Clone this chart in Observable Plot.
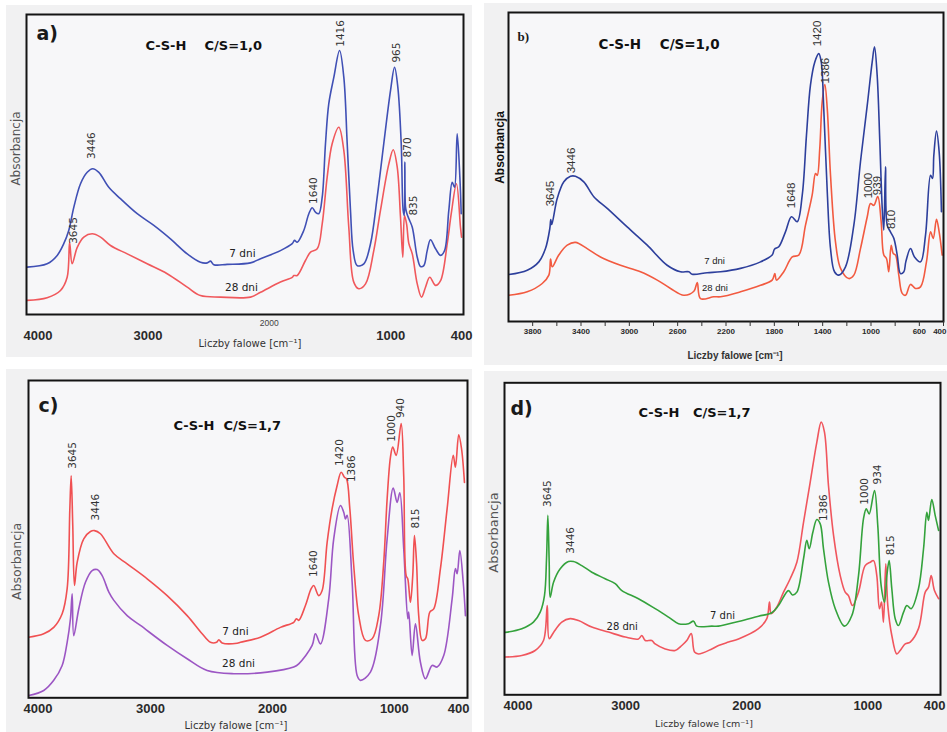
<!DOCTYPE html>
<html><head><meta charset="utf-8">
<script src="https://cdn.jsdelivr.net/npm/d3@7"></script>
<script src="https://cdn.jsdelivr.net/npm/@observablehq/plot@0.6"></script>
<style>
body{margin:0;background:#fff;}
#wrap{position:relative;width:947px;height:732px;overflow:hidden;background:#fff;}
.bg{position:absolute;background:#f1f1f2;}
.panel{position:absolute;}
</style></head><body><div id="wrap"></div>
<script>
// ---------- DATA: [wavenumber cm-1, absorbance (relative)] ----------
const a_7dni = [[3995,0.158],[3830,0.169],[3747,0.197],[3693,0.236],[3652,0.28],[3610,0.358],[3555,0.436],[3500,0.474],[3455,0.486],[3404,0.474],[3322,0.424],[3226,0.386],[3088,0.336],[2951,0.297],[2814,0.252],[2676,0.202],[2567,0.174],[2511,0.172],[2484,0.178],[2457,0.166],[2347,0.167],[2155,0.172],[2072,0.186],[1908,0.213],[1811,0.236],[1792,0.247],[1770,0.241],[1716,0.28],[1674,0.336],[1646,0.356],[1619,0.341],[1592,0.336],[1564,0.391],[1537,0.569],[1510,0.702],[1468,0.791],[1421,0.88],[1386,0.791],[1358,0.569],[1331,0.347],[1309,0.213],[1276,0.163],[1221,0.169],[1166,0.236],[1111,0.391],[1057,0.569],[1001,0.747],[968,0.824],[941,0.758],[913,0.569],[897,0.347],[888,0.33],[883,0.508],[878,0.36],[869,0.34],[850,0.319],[822,0.291],[781,0.191],[754,0.16],[727,0.163],[699,0.213],[672,0.249],[630,0.219],[589,0.197],[556,0.213],[521,0.347],[493,0.441],[474,0.424],[452,0.602],[430,0.458],[419,0.336]];
const a_28dni = [[3995,0.047],[3830,0.056],[3720,0.08],[3665,0.124],[3645,0.241],[3624,0.169],[3582,0.224],[3528,0.258],[3459,0.269],[3390,0.258],[3308,0.23],[3170,0.202],[3006,0.169],[2841,0.136],[2676,0.091],[2567,0.063],[2402,0.058],[2155,0.058],[2072,0.074],[1908,0.108],[1811,0.124],[1798,0.13],[1770,0.13],[1702,0.18],[1660,0.208],[1605,0.219],[1564,0.302],[1523,0.458],[1482,0.569],[1427,0.624],[1386,0.547],[1345,0.291],[1304,0.108],[1263,0.086],[1207,0.102],[1139,0.213],[1084,0.347],[1015,0.502],[979,0.549],[946,0.491],[919,0.324],[900,0.191],[886,0.33],[869,0.302],[850,0.236],[822,0.202],[781,0.102],[746,0.058],[713,0.091],[678,0.124],[630,0.097],[589,0.113],[534,0.236],[501,0.336],[458,0.436],[425,0.291],[416,0.258]];

const b_7dni = [[3997,0.152],[3845,0.166],[3749,0.193],[3694,0.236],[3658,0.301],[3650,0.33],[3642,0.314],[3597,0.398],[3542,0.452],[3487,0.47],[3446,0.47],[3377,0.452],[3294,0.404],[3183,0.366],[3018,0.306],[2852,0.247],[2687,0.182],[2577,0.161],[2508,0.161],[2480,0.153],[2356,0.158],[2245,0.161],[2080,0.172],[1914,0.193],[1818,0.215],[1799,0.234],[1763,0.242],[1708,0.29],[1658,0.339],[1611,0.323],[1569,0.409],[1534,0.603],[1501,0.765],[1465,0.84],[1432,0.867],[1412,0.84],[1391,0.689],[1362,0.42],[1335,0.236],[1302,0.161],[1266,0.15],[1211,0.177],[1142,0.312],[1087,0.517],[1031,0.7],[990,0.84],[971,0.889],[949,0.797],[927,0.582],[907,0.366],[894,0.296],[880,0.501],[866,0.312],[839,0.29],[811,0.269],[783,0.215],[756,0.155],[728,0.161],[712,0.193],[673,0.236],[640,0.209],[590,0.193],[549,0.279],[507,0.473],[491,0.463],[480,0.538],[458,0.616],[436,0.549],[417,0.355]];
const b_28dni = [[3997,0.085],[3845,0.096],[3721,0.123],[3666,0.15],[3652,0.202],[3638,0.177],[3584,0.215],[3514,0.247],[3446,0.256],[3349,0.236],[3239,0.209],[3073,0.182],[2908,0.161],[2769,0.134],[2659,0.107],[2549,0.085],[2466,0.098],[2438,0.126],[2411,0.074],[2301,0.08],[2245,0.08],[2080,0.096],[1914,0.117],[1818,0.134],[1796,0.155],[1782,0.134],[1722,0.161],[1652,0.209],[1597,0.215],[1542,0.312],[1487,0.409],[1459,0.479],[1445,0.473],[1424,0.56],[1404,0.711],[1382,0.767],[1362,0.689],[1335,0.473],[1294,0.258],[1252,0.172],[1184,0.139],[1142,0.15],[1087,0.236],[1031,0.339],[1004,0.382],[977,0.376],[944,0.404],[916,0.323],[894,0.215],[872,0.204],[853,0.161],[833,0.247],[816,0.22],[797,0.215],[770,0.15],[742,0.091],[714,0.085],[673,0.12],[632,0.107],[590,0.112],[541,0.193],[507,0.29],[485,0.269],[458,0.331],[436,0.29],[411,0.215]];

const c_7dni = [[3998,0.191],[3875,0.202],[3793,0.222],[3724,0.265],[3683,0.344],[3661,0.596],[3650,0.7],[3637,0.543],[3623,0.354],[3601,0.427],[3547,0.501],[3492,0.524],[3459,0.527],[3410,0.517],[3300,0.454],[3191,0.422],[3027,0.375],[2863,0.322],[2699,0.259],[2576,0.202],[2508,0.175],[2458,0.175],[2439,0.183],[2412,0.173],[2289,0.172],[2262,0.175],[2098,0.191],[1934,0.222],[1825,0.238],[1803,0.249],[1784,0.244],[1729,0.291],[1682,0.344],[1661,0.354],[1620,0.322],[1592,0.338],[1551,0.49],[1510,0.596],[1469,0.669],[1436,0.711],[1409,0.695],[1392,0.69],[1365,0.596],[1333,0.417],[1292,0.259],[1237,0.181],[1182,0.186],[1128,0.259],[1087,0.427],[1059,0.627],[1032,0.758],[1013,0.79],[985,0.764],[944,0.864],[923,0.7],[903,0.385],[890,0.375],[868,0.301],[849,0.385],[835,0.511],[818,0.427],[800,0.259],[772,0.181],[745,0.186],[709,0.27],[677,0.28],[622,0.407],[567,0.596],[517,0.764],[499,0.727],[472,0.829],[449,0.785],[425,0.679]];
const c_28dni = [[3998,0.007],[3875,0.023],[3793,0.055],[3724,0.102],[3683,0.175],[3656,0.249],[3642,0.328],[3629,0.196],[3588,0.28],[3533,0.364],[3478,0.401],[3437,0.404],[3396,0.385],[3341,0.333],[3300,0.307],[3191,0.259],[3082,0.228],[2863,0.165],[2699,0.123],[2535,0.086],[2317,0.076],[2043,0.081],[1825,0.097],[1784,0.107],[1674,0.165],[1647,0.202],[1606,0.17],[1538,0.312],[1497,0.501],[1442,0.606],[1415,0.585],[1401,0.564],[1387,0.575],[1346,0.364],[1305,0.07],[1278,0.055],[1196,0.081],[1114,0.228],[1059,0.501],[1009,0.661],[977,0.616],[955,0.646],[923,0.47],[890,0.249],[882,0.27],[854,0.133],[827,0.233],[786,0.112],[745,0.06],[690,0.102],[649,0.097],[595,0.133],[526,0.312],[499,0.407],[485,0.391],[463,0.464],[435,0.364],[417,0.259]];

const d_7dni = [[3994,0.2],[3857,0.212],[3761,0.233],[3705,0.265],[3670,0.318],[3653,0.436],[3642,0.575],[3631,0.425],[3623,0.313],[3595,0.361],[3540,0.404],[3472,0.427],[3430,0.427],[3362,0.414],[3279,0.393],[3169,0.372],[3086,0.356],[3031,0.334],[2894,0.308],[2756,0.276],[2646,0.249],[2563,0.228],[2481,0.228],[2439,0.236],[2412,0.22],[2288,0.22],[2233,0.22],[2068,0.235],[1903,0.252],[1793,0.263],[1738,0.286],[1655,0.334],[1622,0.32],[1586,0.329],[1531,0.436],[1504,0.495],[1484,0.468],[1454,0.521],[1421,0.562],[1393,0.548],[1366,0.468],[1325,0.361],[1269,0.276],[1193,0.22],[1132,0.254],[1077,0.382],[1036,0.564],[1013,0.596],[989,0.58],[945,0.655],[918,0.543],[890,0.35],[862,0.297],[843,0.382],[824,0.43],[802,0.34],[774,0.244],[747,0.222],[705,0.265],[678,0.286],[642,0.276],[582,0.34],[540,0.468],[513,0.585],[499,0.559],[472,0.626],[444,0.575],[416,0.527]];
const d_28dni = [[3994,0.121],[3857,0.126],[3747,0.142],[3678,0.174],[3647,0.286],[3631,0.18],[3595,0.2],[3527,0.233],[3458,0.244],[3389,0.238],[3279,0.217],[3141,0.201],[3003,0.185],[2894,0.179],[2866,0.19],[2838,0.174],[2784,0.174],[2756,0.163],[2673,0.147],[2591,0.142],[2536,0.158],[2495,0.174],[2458,0.196],[2431,0.137],[2398,0.131],[2288,0.147],[2233,0.158],[2150,0.169],[2068,0.179],[1903,0.212],[1834,0.244],[1812,0.297],[1798,0.26],[1752,0.281],[1696,0.329],[1641,0.372],[1586,0.425],[1531,0.553],[1476,0.681],[1421,0.81],[1385,0.874],[1358,0.842],[1325,0.671],[1283,0.511],[1228,0.382],[1187,0.329],[1160,0.318],[1127,0.286],[1077,0.329],[1022,0.414],[980,0.425],[953,0.43],[926,0.382],[904,0.276],[887,0.297],[871,0.233],[852,0.42],[835,0.286],[802,0.19],[761,0.131],[733,0.142],[691,0.163],[650,0.169],[582,0.212],[526,0.329],[499,0.345],[477,0.382],[450,0.334],[416,0.308]];

// peak annotations: text, wavenumber position, absorbance position
const a_peakText = ["3446","3645","1640","1416","965","870","835"];
const a_peakX = [3465,3613,1636,1413,952,861,812];
const a_peakY = [0.563,0.28,0.413,0.937,0.873,0.557,0.363];
const b_peakText = ["3645","3446","1648","1420","1386","1000","939","810"];
const b_peakX = [3652,3481,1660,1445,1382,1023,949,830];
const b_peakY = [0.414,0.521,0.408,0.932,0.812,0.44,0.44,0.33];
const c_peakText = ["3645","3446","1640","1420","1386","1000","940","815"];
const c_peakX = [3639,3451,1663,1450,1351,1023,950,827];
const c_peakY = [0.764,0.601,0.423,0.773,0.722,0.849,0.913,0.565];
const d_peakText = ["3645","3446","1386","1000","934","815"];
const d_peakX = [3642,3455,1364,1025,923,813];
const d_peakY = [0.645,0.495,0.6,0.652,0.706,0.479];

// series labels: [7 dni, 28 dni]
const seriesText = ["7 dni","28 dni"];
const a_seriesX = [2221,2229], a_seriesY = [0.203,0.09];
const b_seriesX = [2295,2291], b_seriesY = [0.197,0.11];
const c_seriesX = [2303,2278], c_seriesY = [0.207,0.109];
const d_seriesX = [2200,3028], d_seriesY = [0.252,0.217];

// axis ticks
const ticksA = [3000,1000,400];
const ticksAsmall = [2000];
const ticksB = [3800,3400,3000,2600,2200,1800,1400,1000,600];
const minorTicksB = [3800,3600,3400,3200,3000,2800,2600,2400,2200,2000,1800,1600,1400,1200,1000,800,600,400];
const ticksCD = [3000,2000,1000];
const firstTick = [4000];
const lastTick = [400];

const titles = ["C-S-H\u00a0\u00a0\u00a0\u00a0C/S=1,0","C-S-H\u00a0\u00a0\u00a0\u00a0C/S=1,0","C-S-H\u00a0\u00a0C/S=1,7","C-S-H\u00a0\u00a0\u00a0C/S=1,7"];
const letters = ["a)","b)","c)","d)"];
const xLabel = "Liczby falowe [cm\u207B\u00B9]";
const yLabel = "Absorbancja";

// ---------- RENDER ----------
const FV = "DejaVu Sans, Verdana, sans-serif";
const FA = "Liberation Sans, Arial, sans-serif";
const wrap = document.getElementById("wrap");

function pts(t, xs, ys){ return t.map((s,i)=>({t:s, x:xs[i], y:ys[i]})); }

const cfgs = [
 {left:0, top:0, w:475, h:362, mt:14, mr:12, mb:48, ml:26, bg:[6,5,466,352],
  s7:a_7dni, s28:a_28dni, c7:"#4050b5", c28:"#f0585c",
  peaks:pts(a_peakText,a_peakX,a_peakY), ser:pts(seriesText,a_seriesX,a_seriesY),
  pf:FV, ps:10.5, sf:FV, ss:10.5, title:titles[0], letter:letters[0],
  letterF:FV, letterS:19, letterDx:10, letterDy:19, titleS:13, titleDx:119, titleDy:31, titleF:FV,
  ticks:ticksA.filter(t => t !== 400), tickF:FA, tickS:13, tickW:"bold", tickDy:21, firstDx:-3, lastAnchor:"end", lastDx:9,
  xlF:FV, xlS:10, xlW:"normal", xlDx:5, xlDy:29,
  ylF:FV, ylS:12, ylW:"normal", ylDx:-10, ylDy:-16, small:true},
 {left:475, top:0, w:472, h:365, mt:12, mr:4, mb:44, ml:33, bg:[9,3,463,362],
  s7:b_7dni, s28:b_28dni, c7:"#2d3f9c", c28:"#f25a40",
  peaks:pts(b_peakText,b_peakX,b_peakY), ser:pts(seriesText,b_seriesX,b_seriesY),
  pf:FA, ps:11.5, sf:FA, ss:9.5, title:titles[1], letter:letters[1],
  letterF:"Liberation Serif, Times New Roman, serif", letterS:13, letterDx:9, letterDy:24, titleS:13.5, titleDx:90, titleDy:32, titleF:FV,
  ticks:ticksB, tickF:FA, tickS:8, tickW:"bold", tickDy:10, minor:true, lastAnchor:"end", lastDx:3,
  xlF:FA, xlS:10, xlW:"bold", xlDx:9, xlDy:34,
  ylF:FA, ylS:12, ylW:"bold", ylDx:-8, ylDy:-19.5},
 {left:0, top:365, w:475, h:367, mt:15, mr:8, mb:34.7, ml:28, bg:[6,4,466,363],
  s7:c_7dni, s28:c_28dni, c7:"#f05052", c28:"#9c56c4",
  peaks:pts(c_peakText,c_peakX,c_peakY), ser:pts(seriesText,c_seriesX,c_seriesY),
  pf:FV, ps:10.5, sf:FV, ss:10.5, title:titles[2], letter:letters[2],
  letterF:FV, letterS:19, letterDx:10, letterDy:25.7, titleS:13, titleDx:145, titleDy:45, titleF:FV,
  ticks:ticksCD, tickF:FA, tickS:13, tickW:"bold", tickDy:11, firstDx:-5, lastAnchor:"end", lastDx:2,
  xlF:FV, xlS:10, xlW:"normal", xlDx:-12, xlDy:28,
  ylF:FV, ylS:12.5, ylW:"normal", ylDx:-12, ylDy:22.3},
 {left:475, top:365, w:472, h:367, mt:17.3, mr:7, mb:37.7, ml:29, bg:[9,6,463,361],
  s7:d_7dni, s28:d_28dni, c7:"#34a23c", c28:"#f0565e",
  peaks:pts(d_peakText,d_peakX,d_peakY), ser:pts(seriesText,d_seriesX,d_seriesY),
  pf:FV, ps:10.5, sf:FV, ss:10, title:titles[3], letter:letters[3],
  letterF:FV, letterS:19, letterDx:6, letterDy:25.7, titleS:13, titleDx:134, titleDy:30, titleF:FV,
  ticks:ticksCD, tickF:FA, tickS:13, tickW:"bold", tickDy:10.7, firstDx:-1, lastAnchor:"end", lastDx:5,
  xlF:FV, xlS:9.5, xlW:"normal", xlDx:-18.5, xlDy:29,
  ylF:FV, ylS:13, ylW:"normal", ylDx:-11, ylDy:-6.3}
];

cfgs.forEach(cfg => {
  const bg = document.createElement("div");
  bg.className = "bg";
  bg.style.left = (cfg.left + cfg.bg[0]) + "px"; bg.style.top = (cfg.top + cfg.bg[1]) + "px";
  bg.style.width = cfg.bg[2] + "px"; bg.style.height = cfg.bg[3] + "px";
  wrap.appendChild(bg);

  const X = d => d[0], Y = d => d[1];
  const tickStyle = {frameAnchor: "bottom", lineAnchor: "middle", dy: cfg.tickDy, fontFamily: cfg.tickF,
    fontSize: cfg.tickS, fontWeight: cfg.tickW, fill: "#2a2a2a"};
  const marks = [
    Plot.frame({fill: "#f7f7f9", stroke: null}),
    Plot.line(cfg.s28, {x: X, y: Y, stroke: cfg.c28, strokeWidth: 1.6, curve: "catmull-rom"}),
    Plot.line(cfg.s7, {x: X, y: Y, stroke: cfg.c7, strokeWidth: 1.6, curve: "catmull-rom"}),
    Plot.text(cfg.peaks, {x: "x", y: "y", text: "t", rotate: -90, textAnchor: "middle", lineAnchor: "middle",
      fontFamily: cfg.pf, fontSize: cfg.ps, fill: "#333"}),
    Plot.text(cfg.ser, {x: "x", y: "y", text: "t", textAnchor: "middle", lineAnchor: "middle",
      fontFamily: cfg.sf, fontSize: cfg.ss, fill: "#222"}),
    Plot.text([cfg.letter], {frameAnchor: "top-left", textAnchor: "start", lineAnchor: "middle",
      dx: cfg.letterDx, dy: cfg.letterDy, fontFamily: cfg.letterF, fontSize: cfg.letterS, fontWeight: "bold", fill: "#1a1a1a"}),
    Plot.text([cfg.title], {frameAnchor: "top-left", textAnchor: "start", lineAnchor: "middle",
      dx: cfg.titleDx, dy: cfg.titleDy, fontFamily: cfg.titleF, fontSize: cfg.titleS, fontWeight: "bold", fill: "#111"}),
    Plot.text(cfg.ticks, {x: d => d, text: d => String(d), textAnchor: "middle", ...tickStyle}),
    Plot.text(lastTick, {x: d => d, text: d => String(d), textAnchor: "end", dx: cfg.lastDx, ...tickStyle}),
    Plot.text([xLabel], {frameAnchor: "bottom", textAnchor: "middle", lineAnchor: "middle",
      dx: cfg.xlDx, dy: cfg.xlDy, fontFamily: cfg.xlF, fontSize: cfg.xlS, fontWeight: cfg.xlW, fill: "#333"}),
    Plot.text([yLabel], {frameAnchor: "left", rotate: -90, textAnchor: "middle", lineAnchor: "middle",
      dx: cfg.ylDx, dy: cfg.ylDy, fontFamily: cfg.ylF, fontSize: cfg.ylS, fontWeight: cfg.ylW, fill: cfg.ylW === "bold" ? "#111" : "#555"}),
    Plot.frame({stroke: "#141414", strokeWidth: 2})
  ];
  if (cfg.firstDx !== undefined) {
    marks.push(Plot.text(firstTick, {x: d => d, text: d => String(d), textAnchor: "start", dx: cfg.firstDx, ...tickStyle}));
  }
  if (cfg.small) {
    marks.push(Plot.text(ticksAsmall, {x: d => d, text: d => String(d), frameAnchor: "bottom", textAnchor: "middle", lineAnchor: "middle",
      dy: 9, fontFamily: FA, fontSize: 8.5, fill: "#444"}));
  }
  if (cfg.minor) {
    marks.push(Plot.axisX(minorTicksB, {tickSize: 5, tickFormat: () => "", label: null, stroke: "#333", strokeWidth: 1}));
  }
  const svg = Plot.plot({
    width: cfg.w, height: cfg.h,
    marginTop: cfg.mt, marginRight: cfg.mr, marginBottom: cfg.mb, marginLeft: cfg.ml,
    x: {domain: [4000, 400], axis: null},
    y: {domain: [0, 1], axis: null},
    style: {background: "transparent", overflow: "visible"},
    marks
  });
  svg.classList.add("panel");
  svg.style.left = cfg.left + "px";
  svg.style.top = cfg.top + "px";
  wrap.appendChild(svg);
});
</script>
</body></html>
